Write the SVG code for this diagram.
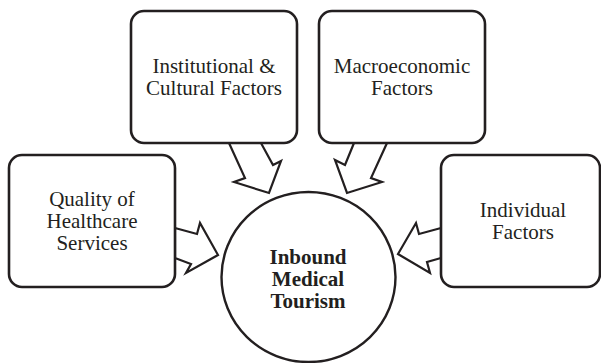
<svg xmlns="http://www.w3.org/2000/svg" width="601" height="363" viewBox="0 0 601 363">
  <style>
    .box { fill: #ffffff; stroke: #231f20; stroke-width: 2.6; }
    .hub { fill: #ffffff; stroke: #231f20; stroke-width: 2.4; }
    .arrow { fill: #ffffff; stroke: #231f20; stroke-width: 2.2; stroke-linejoin: miter; }
    .label { font-family: "Liberation Serif", "Times New Roman", "DejaVu Serif", serif; font-size: 21px; fill: #231f20; text-anchor: middle; }
    .hub-label { font-family: "Liberation Serif", "Times New Roman", "DejaVu Serif", serif; font-size: 21px; font-weight: bold; fill: #231f20; text-anchor: middle; }
  </style>
  <rect width="601" height="363" fill="#ffffff"/>

  <!-- block arrows pointing into the centre -->
  <g id="connectors">
    <polygon class="arrow" points="175,228 197,234 200,223 218,255 186,273 191,264 175,258"/>
    <polygon class="arrow" points="229,143 245,178 234,182 269,193 281,161 273,165 261,143"/>
    <polygon class="arrow" points="354,143 345,165 335,160 347,193 382,182 371,178 387,143"/>
    <polygon class="arrow" points="441,228 419,234 416,223 398,254 430,273 427,262 441,258"/>
  </g>

  <g id="quality">
    <rect class="box" x="9" y="155" width="166" height="132" rx="13"/>
    <text class="label" x="92" y="205.5">Quality of</text>
    <text class="label" x="92" y="227.5">Healthcare</text>
    <text class="label" x="92" y="249.5">Services</text>
  </g>

  <g id="institutional">
    <rect class="box" x="131" y="11" width="166" height="132" rx="13"/>
    <text class="label" x="214" y="72.5">Institutional &amp;</text>
    <text class="label" x="214" y="95">Cultural Factors</text>
  </g>

  <g id="macroeconomic">
    <rect class="box" x="319" y="11" width="166" height="132" rx="13"/>
    <text class="label" x="402" y="72.5">Macroeconomic</text>
    <text class="label" x="402" y="94.5">Factors</text>
  </g>

  <g id="individual">
    <rect class="box" x="441" y="155" width="159" height="132" rx="13"/>
    <text class="label" x="523" y="217">Individual</text>
    <text class="label" x="523" y="239">Factors</text>
  </g>

  <g id="inbound">
    <ellipse class="hub" cx="308.5" cy="277" rx="87" ry="85"/>
    <text class="hub-label" x="308" y="263.5">Inbound</text>
    <text class="hub-label" x="308" y="285.5">Medical</text>
    <text class="hub-label" x="308" y="307.5">Tourism</text>
  </g>
</svg>
